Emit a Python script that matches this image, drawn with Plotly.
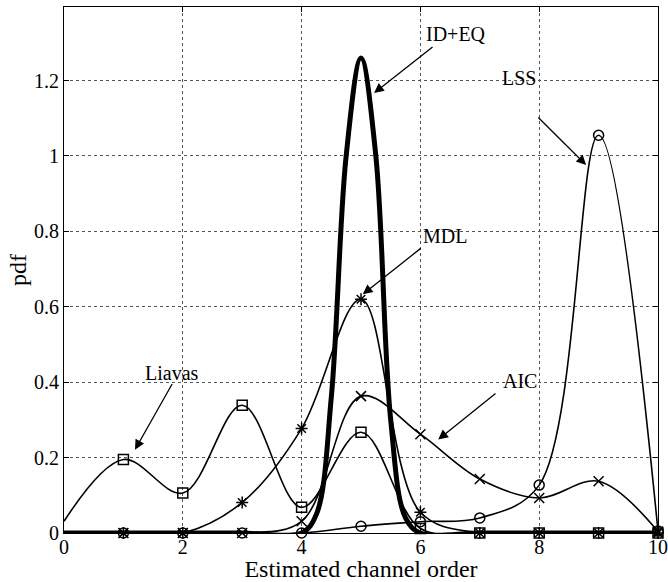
import plotly.graph_objects as go

# ---- data ----
orders = [0, 1, 2, 3, 4, 5, 6, 7, 8, 9, 10]
liavas = [0.031, 0.195, 0.106, 0.339, 0.068, 0.267, 0.012, 0.0, 0.0, 0.0, 0.0]
mdl = [0.0, 0.0, 0.0, 0.081, 0.277, 0.620, 0.055, 0.0, 0.0, 0.0, 0.0]
aic = [0.0, 0.0, 0.0, 0.0, 0.031, 0.363, 0.262, 0.143, 0.093, 0.137, 0.004]
lss = [0.0, 0.0, 0.0, 0.0, 0.0, 0.018, 0.030, 0.040, 0.127, 1.055, 0.005]

ideq_x = [0, 1, 2, 3, 4, 4.25, 4.5, 4.75, 5, 5.25, 5.5, 5.75, 6, 7, 8, 9, 10]
ideq_y = [0, 0, 0, 0, 0, 0.05, 0.36, 1.0, 1.26, 1.0, 0.30, 0.04, 0, 0, 0, 0, 0]

x_ticks = [0, 2, 4, 6, 8, 10]
y_ticks = [0, 0.2, 0.4, 0.6, 0.8, 1.0, 1.2]
y_tick_text = ["0", "0.2", "0.4", "0.6", "0.8", "1", "1.2"]

FONT = "Liberation Serif"

fig = go.Figure()

series = [
    ("Liavas", liavas, "square-open"),
    ("MDL", mdl, "asterisk-open"),
    ("AIC", aic, "x-thin-open"),
    ("LSS", lss, "circle-open"),
]

for name, vals, sym in series:
    fig.add_trace(go.Scatter(
        x=orders, y=vals, mode="lines", name=name,
        line=dict(color="black", width=1.6, shape="spline", smoothing=1.0),
        showlegend=False, hoverinfo="skip"))
    fig.add_trace(go.Scatter(
        x=orders[1:], y=vals[1:], mode="markers", name=name,
        marker=dict(symbol=sym, size=10, color="black",
                    line=dict(color="black", width=1.5)),
        cliponaxis=False, showlegend=False))

fig.add_trace(go.Scatter(
    x=ideq_x, y=ideq_y, mode="lines", name="ID+EQ",
    line=dict(color="black", width=5, shape="spline", smoothing=1.0),
    showlegend=False))

# ---- annotations: (text, text_x, text_y, arrow_start_x, arrow_start_y, tip_x, tip_y)
notes = [
    ("ID+EQ", 6.6, 1.324, 6.23, 1.292, 5.22, 1.167),
    ("LSS", 7.66, 1.207, 7.96, 1.106, 8.79, 0.976),
    ("MDL", 6.42, 0.787, 6.03, 0.758, 5.03, 0.633),
    ("AIC", 7.68, 0.402, 7.29, 0.373, 6.30, 0.248),
    ("Liavas", 1.82, 0.424, 1.835, 0.399, 1.195, 0.221),
]
for txt, tx, ty, sx, sy, hx, hy in notes:
    fig.add_annotation(x=tx, y=ty, text=txt, showarrow=False,
                       font=dict(family=FONT, size=20, color="black"))
    fig.add_annotation(x=hx, y=hy, ax=sx, ay=sy, axref="x", ayref="y",
                       text="", showarrow=True, arrowhead=2, arrowsize=1.5,
                       arrowwidth=1.3, arrowcolor="black")

axis_common = dict(
    showline=True, linecolor="black", linewidth=1, mirror="ticks",
    ticks="inside", ticklen=5, tickcolor="black",
    showgrid=True, gridcolor="#555555", griddash="dot", gridwidth=1,
    zeroline=False, automargin=False,
    tickfont=dict(family=FONT, size=20, color="black"),
)

fig.update_xaxes(range=[0, 10], tickvals=x_ticks, ticklabelstandoff=-4,
                 title=dict(text="Estimated channel order", standoff=4,
                            font=dict(family=FONT, size=24, color="black")),
                 **axis_common)
fig.update_yaxes(range=[0, 1.395], tickvals=y_ticks, ticktext=y_tick_text,
                 title=dict(text="pdf", standoff=0,
                            font=dict(family=FONT, size=24, color="black")),
                 **axis_common)

fig.update_layout(
    width=668, height=582,
    margin=dict(l=64, r=10, t=7, b=49),
    plot_bgcolor="white", paper_bgcolor="white",
    showlegend=False,
)

fig.write_html("out.html", config={"displayModeBar": False},
               post_script="document.body.style.margin='0';document.body.style.overflow='hidden';")
